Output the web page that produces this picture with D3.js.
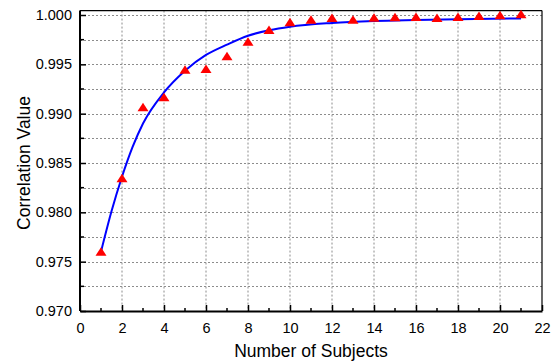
<!DOCTYPE html>
<html><head><meta charset="utf-8">
<script src="https://cdn.jsdelivr.net/npm/d3@7/dist/d3.min.js"></script>
<style>
html,body{margin:0;padding:0;background:#fff;}
svg text{font-family:"Liberation Sans",Arial,sans-serif;fill:#000;}
</style></head>
<body><svg id="c" width="557" height="362"></svg>
<script>
// data
const subjects = [1,2,3,4,5,6,7,8,9,10,11,12,13,14,15,16,17,18,19,20,21];
const correlation = [0.9760,0.98345,0.99064,0.99166,0.99445,0.99452,0.99581,0.9973,0.99849,0.99926,
  0.99952,0.9997,0.99952,0.99973,0.99977,0.9998,0.9997,0.9998,0.9999,0.99997,1.00007];
const fitX = [1,1.5,2,2.5,3,4,5,6,7,8,9,10,12,14,16,18,21];
const fitY = [0.9760,0.9801,0.9836,0.9866,0.9890,0.99215,0.99435,0.99595,0.99700,0.99790,0.99845,0.99882,0.99920,0.99940,0.99950,0.99958,0.99965];
const xTicks = [0,2,4,6,8,10,12,14,16,18,20,22];
const yTicks = [0.970,0.975,0.980,0.985,0.990,0.995,1.000];
const xLabel = "Number of Subjects";
const yLabel = "Correlation Value";

const svg = d3.select("#c");
const L=80, R=542, B=311, T=15;
const x = d3.scaleLinear().domain([0,22]).range([L,R]);
const y = d3.scaleLinear().domain([0.970,1.000]).range([B,T]);
const yTop = y(1.00045);

// grid
const gridX = d3.range(2,22,2);
const gridY = d3.range(0,13).map(i=>0.9725+i*0.0025).filter(v=>v<=1.0001);
const g = svg.append("g");
g.selectAll("line.gx").data(gridX).join("line")
  .attr("x1",d=>x(d)).attr("x2",d=>x(d)).attr("y1",yTop).attr("y2",B)
  .attr("stroke","#8c8c8c").attr("stroke-width",1).attr("stroke-dasharray","2,2");
g.selectAll("line.gy").data(gridY).join("line")
  .attr("x1",L).attr("x2",R).attr("y1",d=>Math.round(y(d))+0.5).attr("y2",d=>Math.round(y(d))+0.5)
  .attr("stroke","#8c8c8c").attr("stroke-width",1).attr("stroke-dasharray","2,2");

// frame top/right
svg.append("line").attr("x1",L).attr("x2",R).attr("y1",yTop).attr("y2",yTop).attr("stroke","#000").attr("stroke-width",1.2);
svg.append("line").attr("x1",R).attr("x2",R).attr("y1",yTop).attr("y2",B).attr("stroke","#000").attr("stroke-width",1.2);

// axes
const xAxis = d3.axisBottom(x).tickValues(xTicks).tickSizeInner(-6).tickSizeOuter(0).tickPadding(12).tickFormat(d3.format("d"));
const xa = svg.append("g").attr("transform",`translate(0,${B})`).call(xAxis);
const yAxis = d3.axisLeft(y).tickValues(yTicks).tickSizeInner(-6).tickSizeOuter(0).tickPadding(8).tickFormat(d3.format(".3f"));
const ya = svg.append("g").attr("transform",`translate(${L},0)`).call(yAxis);
[xa,ya].forEach(a=>{
  a.select(".domain").attr("stroke","#000").attr("stroke-width",2);
  a.selectAll(".tick line").attr("stroke","#000").attr("stroke-width",1.5);
  a.selectAll(".tick text").attr("font-size",14.5).attr("font-family","Liberation Sans, Arial, sans-serif");
});
ya.select(".domain").attr("d",`M0,${yTop}V${B}`);
// minor ticks
svg.append("g").selectAll("line").data(d3.range(1,22,2)).join("line")
  .attr("x1",d=>x(d)).attr("x2",d=>x(d)).attr("y1",B).attr("y2",B-3).attr("stroke","#000").attr("stroke-width",1.5);
svg.append("g").selectAll("line").data(d3.range(0,6).map(i=>0.9725+i*0.005)).join("line")
  .attr("x1",L).attr("x2",L+4).attr("y1",d=>y(d)).attr("y2",d=>y(d)).attr("stroke","#000").attr("stroke-width",1.5);

// fit curve
const line = d3.line().x((d,i)=>x(fitX[i])).y(d=>y(d)).curve(d3.curveMonotoneX);
svg.append("path").datum(fitY).attr("d",line).attr("fill","none").attr("stroke","#0000ff").attr("stroke-width",2);

// markers
svg.append("g").selectAll("path").data(correlation).join("path")
  .attr("transform",(d,i)=>`translate(${x(subjects[i])},${y(d)})`)
  .attr("d","M0,-4.5L5.5,4L-5.5,4Z").attr("fill","#ff0000");

// labels
svg.append("text").attr("x",(L+R)/2).attr("y",357).attr("text-anchor","middle").attr("font-size",17.5).text(xLabel);
svg.append("text").attr("transform",`translate(30,${(T+B)/2}) rotate(-90)`).attr("text-anchor","middle").attr("font-size",17.5).text(yLabel);
</script></body></html>
